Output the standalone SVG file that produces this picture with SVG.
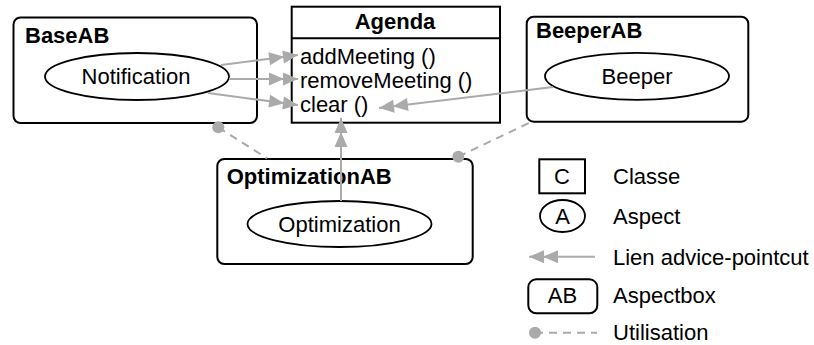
<svg xmlns="http://www.w3.org/2000/svg" width="814" height="345" viewBox="0 0 814 345">
<style>
text{font-family:"Liberation Sans",Arial,sans-serif;font-size:22px;fill:#000}
.b{font-weight:bold}
.m{text-anchor:middle}
.box{fill:#fff;stroke:#000;stroke-width:2}
.asp{fill:#fff;stroke:#000;stroke-width:1.8}
.adv{fill:none;stroke:#aaa;stroke-width:2;marker-end:url(#dbl)}
.use{fill:none;stroke:#aaa;stroke-width:2;stroke-dasharray:8 6}
.dot{fill:#aaa}
</style>
<defs>
<marker id="dbl" markerUnits="userSpaceOnUse" orient="auto" overflow="visible" markerWidth="30" markerHeight="14" refX="0" refY="0">
<path d="M0,0 L-15,-6.5 L-15,6.5 Z M-14,0 L-29,-6.5 L-29,6.5 Z" fill="#aaa"/>
</marker>
</defs>
<g id="BaseAB">
<rect class="box" x="13.5" y="17.5" width="243.5" height="105.5" rx="7"/>
<text class="b" x="25" y="42.7">BaseAB</text>
<g id="Notification">
<ellipse class="asp" cx="137" cy="76.5" rx="92" ry="23.5"/>
<text class="m" x="136" y="84">Notification</text>
</g>
</g>
<g id="Agenda">
<rect class="box" x="291.7" y="6.7" width="208.3" height="116"/>
<line x1="291.7" y1="38.3" x2="500" y2="38.3" stroke="#000" stroke-width="2"/>
<text class="b m" x="395" y="28.5">Agenda</text>
<text x="300" y="63.5">addMeeting ()</text>
<text x="300" y="87.5">removeMeeting ()</text>
<text x="300" y="111.5">clear ()</text>
</g>
<g id="BeeperAB">
<rect class="box" x="526.7" y="16.7" width="221.6" height="105" rx="7"/>
<text class="b" x="536" y="37.5">BeeperAB</text>
<g id="Beeper">
<ellipse class="asp" cx="637" cy="76.3" rx="92" ry="23.5"/>
<text class="m" x="637" y="83.5">Beeper</text>
</g>
</g>
<g id="OptimizationAB">
<rect class="box" x="217.3" y="159" width="255.4" height="105" rx="7"/>
<text class="b" x="226.7" y="183.5">OptimizationAB</text>
<g id="Optimization">
<ellipse class="asp" cx="339.5" cy="224" rx="92" ry="23"/>
<text class="m" x="339.5" y="231.5">Optimization</text>
</g>
</g>
<g id="connectors">
<line class="adv" x1="221" y1="65" x2="298" y2="55"/>
<line class="adv" x1="229" y1="79" x2="298" y2="79"/>
<line class="adv" x1="208" y1="93" x2="298" y2="105"/>
<line class="adv" x1="553" y1="87" x2="379" y2="108"/>
<line class="adv" x1="341" y1="201" x2="341" y2="118"/>
<line class="use" x1="218.3" y1="127.3" x2="267" y2="158.3"/>
<circle class="dot" cx="218.3" cy="127.3" r="6"/>
<line class="use" x1="458.3" y1="156.7" x2="534" y2="120.5"/>
<circle class="dot" cx="458.3" cy="156.7" r="6"/>
</g>
<g id="legend">
<rect x="539.3" y="159.3" width="45.7" height="34" fill="#fff" stroke="#000" stroke-width="2"/>
<text class="m" x="562" y="183.5">C</text>
<text x="613" y="183.5">Classe</text>
<ellipse class="asp" cx="562.5" cy="216" rx="22.5" ry="16"/>
<text class="m" x="562.5" y="224">A</text>
<text x="613" y="224">Aspect</text>
<line class="adv" x1="595" y1="256.7" x2="529" y2="256.7"/>
<text x="613" y="265">Lien advice-pointcut</text>
<rect class="box" x="528.3" y="279.3" width="69" height="34" rx="8"/>
<text class="m" x="562.5" y="303">AB</text>
<text x="613" y="303">Aspectbox</text>
<line class="use" x1="535" y1="332.7" x2="597" y2="332.7"/>
<circle class="dot" cx="535" cy="332.7" r="6"/>
<text x="613" y="340">Utilisation</text>
</g>
</svg>
